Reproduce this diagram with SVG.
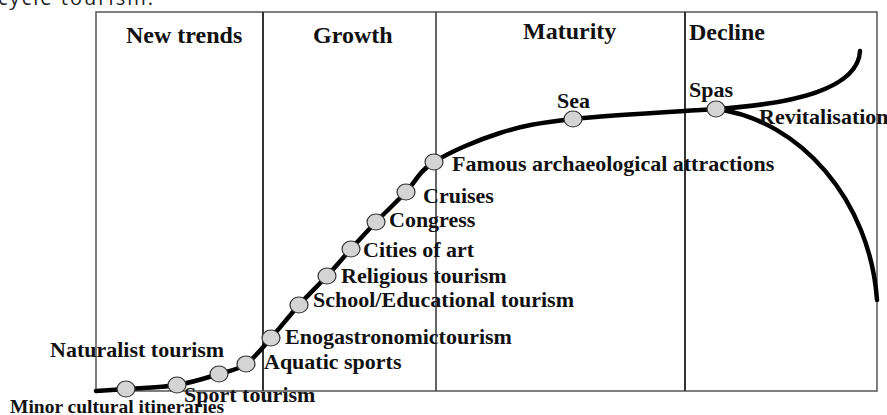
<svg xmlns="http://www.w3.org/2000/svg" width="887" height="415" viewBox="0 0 887 415">
<style>
.lbl{font-family:"Liberation Serif","Times New Roman",serif;font-weight:bold;font-size:22px;fill:#111}
.hdr{font-family:"Liberation Serif","Times New Roman",serif;font-weight:bold;font-size:24px;fill:#111}
.dot{fill:#d4d4d4;stroke:#333;stroke-width:1.2}
.curve{fill:none;stroke:#000;stroke-width:4.5;stroke-linecap:round}
.frame{fill:none;stroke:#555;stroke-width:1.5}
.div{stroke:#333;stroke-width:2}
</style>
<rect width="887" height="415" fill="#fff"/>
<text x="-2" y="5" font-family="Open Sans, sans-serif" font-size="20" fill="#222" textLength="155" lengthAdjust="spacing">cycle tourism.</text>
<g id="frame">
<rect class="frame" x="96" y="12" width="781" height="379"/>
<line class="div" x1="263" y1="12" x2="263" y2="391"/>
<line class="div" x1="436" y1="12" x2="436" y2="391" style="stroke-width:1.5"/>
<line class="div" x1="685" y1="12" x2="685" y2="391"/>
</g>
<g id="headers">
<text class="hdr" x="126" y="43">New trends</text>
<text class="hdr" x="313" y="43">Growth</text>
<text class="hdr" x="523" y="39">Maturity</text>
<text class="hdr" x="689" y="40">Decline</text>
</g>
<g id="connectors">
<path class="curve" d="M96,391 C101,390.7 112.5,390 126,389 C139.5,388 161.5,387.5 177,385 C192.5,382.5 207.5,377.5 219,374 C230.5,370.5 237.3,370 246,364 C254.7,358 262.2,347.8 271,338 C279.8,328.2 289.7,315.3 299,305 C308.3,294.7 318.3,285.3 327,276 C335.7,266.7 342.8,258 351,249 C359.2,240 366.8,231.5 376,222 C385.2,212.5 396.3,202 406,192 C415.7,182 418.3,171.8 434,162 C449.7,152.2 476.8,140.2 500,133 C523.2,125.8 537,123 573,119 C609,115 692.2,110.7 716,109"/>
<path class="curve" d="M716,109 C790,104 858,90 860,51"/>
<path class="curve" d="M716,109 C800,120 870,200 877,300"/>
</g>
<g id="n-minor"><ellipse class="dot" cx="126" cy="389" rx="9" ry="8"/><text class="lbl" x="10" y="413" style="font-size:19.5px">Minor cultural itineraries</text></g>
<g id="n-sport"><ellipse class="dot" cx="177" cy="385" rx="9" ry="8"/><text class="lbl" x="184" y="402">Sport tourism</text></g>
<g id="n-naturalist"><ellipse class="dot" cx="219" cy="374" rx="9" ry="8"/><text class="lbl" x="50" y="357">Naturalist tourism</text></g>
<g id="n-aquatic"><ellipse class="dot" cx="246" cy="364" rx="9" ry="8"/><text class="lbl" x="264" y="369">Aquatic sports</text></g>
<g id="n-eno"><ellipse class="dot" cx="271" cy="338" rx="9" ry="8"/><text class="lbl" x="285" y="344">Enogastronomictourism</text></g>
<g id="n-school"><ellipse class="dot" cx="299" cy="305" rx="9" ry="8"/><text class="lbl" x="313" y="307">School/Educational tourism</text></g>
<g id="n-religious"><ellipse class="dot" cx="327" cy="276" rx="9" ry="8"/><text class="lbl" x="341" y="283">Religious tourism</text></g>
<g id="n-cities"><ellipse class="dot" cx="351" cy="249" rx="9" ry="8"/><text class="lbl" x="363" y="257">Cities of art</text></g>
<g id="n-congress"><ellipse class="dot" cx="376" cy="222" rx="9" ry="8"/><text class="lbl" x="389" y="227">Congress</text></g>
<g id="n-cruises"><ellipse class="dot" cx="406" cy="192" rx="9" ry="8"/><text class="lbl" x="423" y="203">Cruises</text></g>
<g id="n-famous"><ellipse class="dot" cx="434" cy="162" rx="9" ry="8"/><text class="lbl" x="452" y="171">Famous archaeological attractions</text></g>
<g id="n-sea"><ellipse class="dot" cx="573" cy="119" rx="9" ry="8"/><text class="lbl" x="557" y="108">Sea</text></g>
<g id="n-spas"><ellipse class="dot" cx="716" cy="109" rx="9" ry="8"/><text class="lbl" x="689" y="97">Spas</text></g>
<g id="n-revital"><text class="lbl" x="759" y="124">Revitalisation</text></g>
</svg>
